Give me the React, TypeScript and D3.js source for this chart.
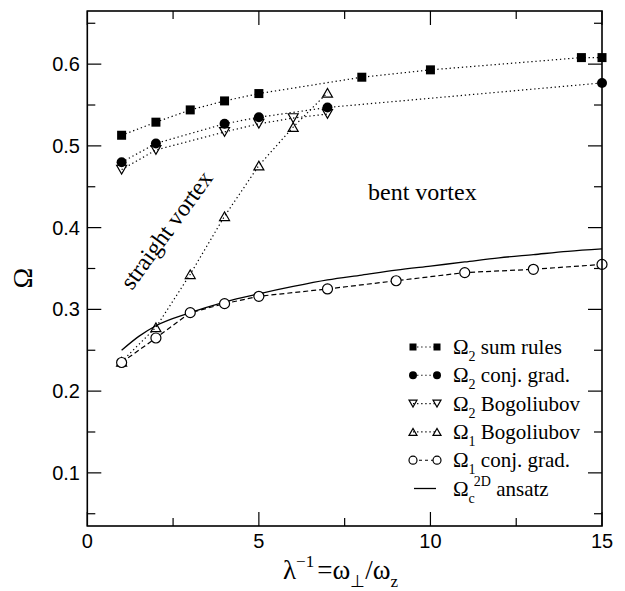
import React from "react";
import * as d3 from "d3";

const xSum = [1, 2, 3, 4, 5, 8, 10, 14.4, 15];
const ySum = [0.513, 0.529, 0.544, 0.555, 0.564, 0.584, 0.593, 0.608, 0.608];
const xCG2 = [1, 2, 4, 5, 7, 15];
const yCG2 = [0.48, 0.503, 0.527, 0.535, 0.547, 0.577];
const xBog2 = [1, 2, 4, 5, 6, 7];
const yBog2 = [0.471, 0.495, 0.517, 0.527, 0.534, 0.539];
const xBog1 = [1, 2, 3, 4, 5, 6, 7];
const yBog1 = [0.236, 0.278, 0.343, 0.414, 0.476, 0.523, 0.565];
const xCG1 = [1, 2, 3, 4, 5, 7, 9, 11, 13, 15];
const yCG1 = [0.235, 0.265, 0.296, 0.307, 0.316, 0.325, 0.335, 0.345, 0.349, 0.355];
const xAns = [1, 1.5, 2, 3, 4, 5, 6, 7, 8, 9, 10, 11, 12, 13, 14, 15];
const yAns = [0.25, 0.267, 0.28, 0.296, 0.309, 0.319, 0.328, 0.336, 0.342, 0.348, 0.353, 0.358, 0.363, 0.367, 0.371, 0.374];

const xMajor = [0, 5, 10, 15];
const xMinor = [2.5, 7.5, 12.5];
const yMajor = [0.1, 0.2, 0.3, 0.4, 0.5, 0.6];
const yMinor = [0.05, 0.15, 0.25, 0.35, 0.45, 0.55, 0.65];

const W = 625, H = 591;
const L = 87.3, R = 602, T = 11, B = 526;
const x = d3.scaleLinear().domain([0, 15]).range([L, R]);
const y = d3.scaleLinear().domain([0.035, 0.665]).range([B, T]);

const SERIF = "Liberation Serif";
const SANS = "Liberation Sans";

type Kind = "sq" | "dot" | "down" | "up" | "ocirc";

function Marker({ cx, cy, kind, s }: { cx: number; cy: number; kind: Kind; s: number }) {
  const sw = 1.2;
  if (kind === "sq") return <rect x={cx - s / 2} y={cy - s / 2} width={s} height={s} fill="#000" />;
  if (kind === "dot") return <circle cx={cx} cy={cy} r={s / 2} fill="#000" />;
  if (kind === "ocirc") return <circle cx={cx} cy={cy} r={s / 2} fill="#fff" stroke="#000" strokeWidth={sw} />;
  const h = s * 0.87;
  if (kind === "down")
    return (
      <path
        d={`M${cx - s / 2},${cy - h / 2}L${cx + s / 2},${cy - h / 2}L${cx},${cy + h / 2}Z`}
        fill="none"
        stroke="#000"
        strokeWidth={sw}
      />
    );
  return (
    <path
      d={`M${cx - s / 2},${cy + h / 2}L${cx + s / 2},${cy + h / 2}L${cx},${cy - h / 2}Z`}
      fill="none"
      stroke="#000"
      strokeWidth={sw}
    />
  );
}

const line = d3
  .line<[number, number]>()
  .x((d) => x(d[0]))
  .y((d) => y(d[1]));
const smooth = d3
  .line<[number, number]>()
  .x((d) => x(d[0]))
  .y((d) => y(d[1]))
  .curve(d3.curveMonotoneX);

const zip = (a: number[], b: number[]) => a.map((v, i) => [v, b[i]] as [number, number]);

const DOT = "1.3,2.8";
const DASH = "5,3";

const series: { xs: number[]; ys: number[]; kind: Kind; dash: string; size: number }[] = [
  { xs: xBog1, ys: yBog1, kind: "up", dash: DOT, size: 10 },
  { xs: xCG1, ys: yCG1, kind: "ocirc", dash: DASH, size: 10 },
  { xs: xBog2, ys: yBog2, kind: "down", dash: DOT, size: 10 },
  { xs: xCG2, ys: yCG2, kind: "dot", dash: DOT, size: 10 },
  { xs: xSum, ys: ySum, kind: "sq", dash: DOT, size: 9 },
];

const legendItems: { kind: Kind | "line"; dash: string; sub: string; sup?: string; label: string }[] = [
  { kind: "sq", dash: DOT, sub: "2", label: "sum rules" },
  { kind: "dot", dash: DOT, sub: "2", label: "conj. grad." },
  { kind: "down", dash: DOT, sub: "2", label: "Bogoliubov" },
  { kind: "up", dash: DOT, sub: "1", label: "Bogoliubov" },
  { kind: "ocirc", dash: "3,3", sub: "1", label: "conj. grad." },
  { kind: "line", dash: "", sub: "c", sup: "2D", label: "ansatz" },
];

export default function App() {
  const tickStroke = { stroke: "#000", strokeWidth: 1.2 };
  return (
    <svg width={W} height={H} style={{ position: "absolute", left: 0, top: 0, background: "#fff" }}>
      <rect x={0} y={0} width={W} height={H} fill="#fff" />
      {xMajor.map((v) => (
        <g key={"xm" + v}>
          <line x1={x(v)} x2={x(v)} y1={B} y2={B - 14} {...tickStroke} />
          <line x1={x(v)} x2={x(v)} y1={T} y2={T + 14} {...tickStroke} />
          <text x={x(v)} y={548} textAnchor="middle" fontFamily={SANS} fontSize={20}>
            {v}
          </text>
        </g>
      ))}
      {xMinor.map((v) => (
        <g key={"xn" + v}>
          <line x1={x(v)} x2={x(v)} y1={B} y2={B - 8} {...tickStroke} />
          <line x1={x(v)} x2={x(v)} y1={T} y2={T + 8} {...tickStroke} />
        </g>
      ))}
      {yMajor.map((v) => (
        <g key={"ym" + v}>
          <line x1={L} x2={L + 14} y1={y(v)} y2={y(v)} {...tickStroke} />
          <line x1={R} x2={R - 14} y1={y(v)} y2={y(v)} {...tickStroke} />
          <text x={80} y={y(v) + 7} textAnchor="end" fontFamily={SANS} fontSize={20}>
            {v.toFixed(1)}
          </text>
        </g>
      ))}
      {yMinor.map((v) => (
        <g key={"yn" + v}>
          <line x1={L} x2={L + 8} y1={y(v)} y2={y(v)} {...tickStroke} />
          <line x1={R} x2={R - 8} y1={y(v)} y2={y(v)} {...tickStroke} />
        </g>
      ))}

      <path d={smooth(zip(xAns, yAns)) || ""} fill="none" stroke="#000" strokeWidth={1.3} />

      {series.map((s, i) => (
        <path
          key={"l" + i}
          d={line(zip(s.xs, s.ys)) || ""}
          fill="none"
          stroke="#000"
          strokeWidth={1.2}
          strokeDasharray={s.dash}
        />
      ))}
      {series.map((s, i) =>
        s.xs.map((v, j) => <Marker key={`m${i}-${j}`} cx={x(v)} cy={y(s.ys[j])} kind={s.kind} s={s.size} />)
      )}

      <rect x={L} y={T} width={R - L} height={B - T} fill="none" stroke="#000" strokeWidth={1.6} />

      <text x={368} y={200} fontFamily={SERIF} fontSize={24}>
        bent vortex
      </text>
      <text transform="translate(132,291) rotate(-54)" fontFamily={SERIF} fontSize={24}>
        straight vortex
      </text>

      {legendItems.map((it, i) => {
        const cy = 347 + i * 28.3;
        return (
          <g key={"lg" + i}>
            {it.kind === "line" ? (
              <line x1={414} x2={436} y1={cy} y2={cy} stroke="#000" strokeWidth={1.3} />
            ) : (
              <>
                <line x1={413} x2={437} y1={cy} y2={cy} stroke="#000" strokeWidth={1.1} strokeDasharray={it.dash} />
                <Marker cx={413} cy={cy} kind={it.kind} s={it.kind === "sq" ? 7 : 8} />
                <Marker cx={437} cy={cy} kind={it.kind} s={it.kind === "sq" ? 7 : 8} />
              </>
            )}
            <text x={453} y={cy + 7} fontFamily={SERIF} fontSize={21}>
              Ω
              <tspan fontSize={14} dy={7}>
                {it.sub}
              </tspan>
              {it.sup ? (
                <>
                  <tspan fontSize={14} dx={-1} dy={-17}>
                    {it.sup}
                  </tspan>
                  <tspan dy={10}> {it.label}</tspan>
                </>
              ) : (
                <tspan dy={-7}> {it.label}</tspan>
              )}
            </text>
          </g>
        );
      })}

      <text transform="translate(32,278) rotate(-90)" textAnchor="middle" fontFamily={SERIF} fontSize={28}>
        Ω
      </text>
      <text x={283} y={579} fontFamily={SERIF} fontSize={27}>
        λ
        <tspan fontSize={17} dy={-12}>
          −1
        </tspan>
        <tspan dy={12} dx={3}>
          =ω
        </tspan>
        <tspan fontSize={17} dy={8}>
          ⊥
        </tspan>
        <tspan dy={-8}>/ω</tspan>
        <tspan fontSize={17} dy={8}>
          z
        </tspan>
      </text>
    </svg>
  );
}
